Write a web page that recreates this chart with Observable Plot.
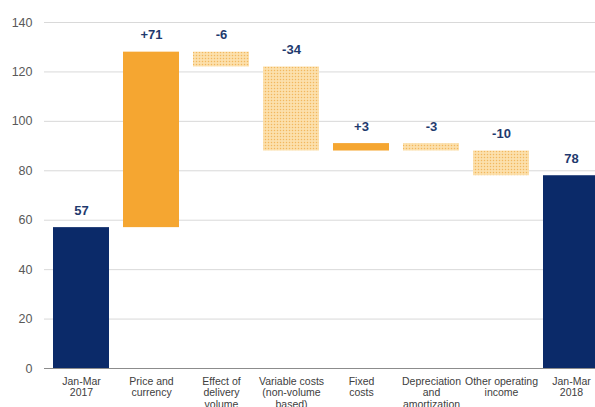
<!DOCTYPE html>
<html>
<head>
<meta charset="utf-8">
<script src="https://cdn.jsdelivr.net/npm/d3@7"></script>
<script src="https://cdn.jsdelivr.net/npm/@observablehq/plot@0.6"></script>
<style>
  html, body { margin: 0; padding: 0; background: #fff; overflow: hidden; }
  #chart { width: 595px; height: 407px; overflow: hidden; }
</style>
</head>
<body>
<svg width="0" height="0" style="position:absolute">
  <defs>
    <pattern id="dots" width="3" height="3" patternUnits="userSpaceOnUse">
      <rect width="3" height="3" fill="#FCE0AC"></rect>
      <circle cx="1.5" cy="1.5" r="0.75" fill="#F2B85E"></circle>
    </pattern>
  </defs>
</svg>
<div id="chart"></div>
<script>
const categories = [
  "Jan-Mar\n2017",
  "Price and\ncurrency",
  "Effect of\ndelivery\nvolume",
  "Variable costs\n(non-volume\nbased)",
  "Fixed\ncosts",
  "Depreciation\nand\namortization",
  "Other operating\nincome",
  "Jan-Mar\n2018"
];
const starts = [0, 57, 128, 122, 88, 91, 88, 0];
const ends   = [57, 128, 122, 88, 91, 88, 78, 78];
const valueLabels = ["57", "+71", "-6", "-34", "+3", "-3", "-10", "78"];
const kinds = ["total", "up", "down", "down", "up", "down", "down", "total"];
const yTicks = [0, 20, 40, 60, 80, 100, 120, 140];

const data = categories.map((c, i) => ({
  cat: c, y1: starts[i], y2: ends[i], label: valueLabels[i], kind: kinds[i],
  top: Math.max(starts[i], ends[i])
}));

const fills = {total: "#0B2A69", up: "#F5A631", down: "url(#dots)"};

const plot = Plot.plot({
  width: 595,
  height: 407,
  marginTop: 22,
  marginBottom: 39,
  marginLeft: 44,
  marginRight: 0,
  style: {fontFamily: "'Liberation Sans', Arial, sans-serif", background: "#fff"},
  x: {domain: categories, range: [38, 614.5], padding: 0.2, label: null},
  y: {domain: [0, 140], label: null},
  marks: [
    Plot.gridY(yTicks, {stroke: "#d9d9d9", strokeOpacity: 1, strokeWidth: 1}),
    Plot.axisY(yTicks, {tickSize: 0, tickPadding: 12, fontSize: 12.5, fill: "#595959", label: null}),
    Plot.axisX({tickSize: 0, tickPadding: 8, fontSize: 10.5, fill: "#404040", label: null,
      fontFamily: "'Liberation Sans Narrow', 'Arial Narrow', 'Liberation Sans', sans-serif",
      lineHeight: 1.1}),
    ...["total", "up", "down"].map(k =>
      Plot.rectY(data.filter(d => d.kind === k), {x: "cat", y1: "y1", y2: "y2", fill: fills[k]})
    ),
    Plot.ruleY([0], {stroke: "#8c8c8c", strokeWidth: 1.2}),
    Plot.text(data, {x: "cat", y: "top", text: "label", dy: -17, fill: "#1F3A6E",
      fontWeight: "bold", fontSize: 13,
      fontFamily: "'Liberation Sans Narrow', 'Arial Narrow', 'Liberation Sans', sans-serif"})
  ]
});
document.getElementById("chart").appendChild(plot);
</script>
</body>
</html>
